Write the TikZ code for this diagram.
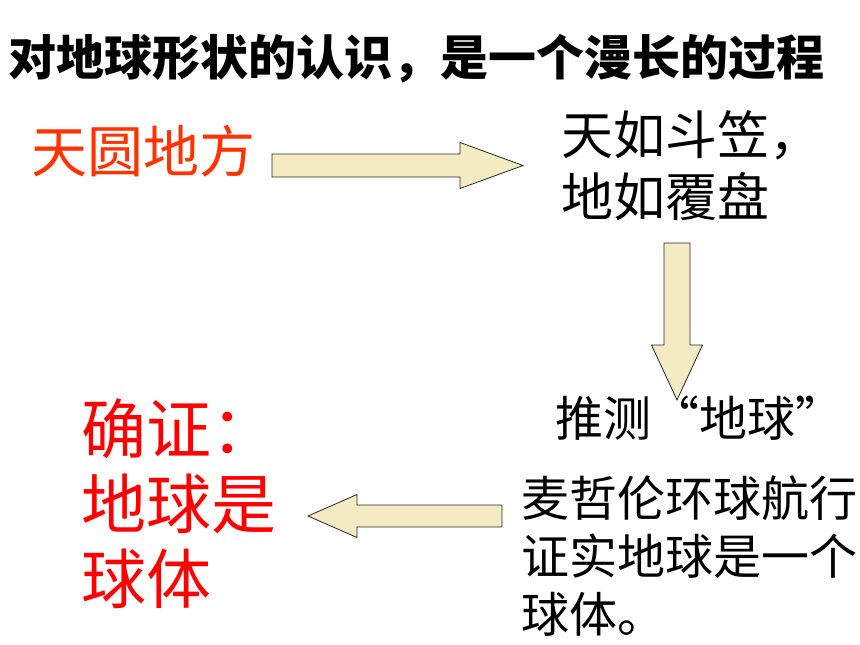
\documentclass[tikz,border=0pt]{standalone}
\usepackage{fontspec}
\usepackage{xcolor}
\newfontfamily\cjk{Noto Sans CJK SC}
\definecolor{arrowfill}{RGB}{245,235,195}
\definecolor{fangred}{RGB}{255,51,0}

\tikzset{
  fatarrow/.style={draw=black!85, fill=arrowfill, line width=0.8pt},
  heading/.style={font=\cjk\bfseries\fontsize{48}{58}\selectfont, inner sep=0pt, anchor=base west},
  stage/.style={inner sep=0pt, anchor=base west, align=left},
}
% tail point, angle, length, head length, shaft half width, head half width
\newcommand{\fatarrow}[6]{%
  \draw[fatarrow, shift={(#1)}, rotate=#2] (0,#5) -- ({#3-#4},#5) -- ({#3-#4},#6)
    -- (#3,0) -- ({#3-#4},-#6) -- ({#3-#4},-#5) -- (0,-#5) -- cycle;}

\begin{document}
\begin{tikzpicture}[x=1pt,y=-1pt]
    \useasboundingbox (0,0) rectangle (860,645);

    % Title
    \node[heading] (title) at (8,75) {对地球形状的认识，是一个漫长的过程};

    % Stages (base = last line)
    \node[stage, text=fangred, font=\cjk\fontsize{56}{62}\selectfont] (square) at (31,172) {天圆地方};
    \node[stage, font=\cjk\fontsize{52}{62}\selectfont] (hat) at (561,216) {天如斗笠，\\地如覆盘};
    \node[stage, font=\cjk\fontsize{48}{58}\selectfont] (guess) at (555,436) {推测“地球”};
    \node[stage, font=\cjk\fontsize{48}{58}\selectfont] (voyage) at (521,632) {麦哲伦环球航行\\证实地球是一个\\球体。};
    \node[stage, text=red, font=\cjk\fontsize{65}{75}\selectfont] (proof) at (81,603) {确证：\\地球是\\球体};

    % Arrows
    \fatarrow{272,165.5}{0}{251}{63}{11.5}{23}
    \fatarrow{677,243}{-90}{157}{55}{13}{25.5}
    \fatarrow{502,516}{180}{194}{49}{11}{21.5}
\end{tikzpicture}
\end{document}
